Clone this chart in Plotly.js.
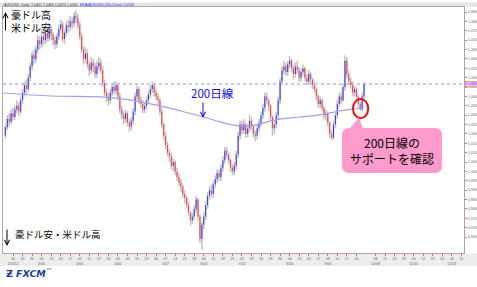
<!DOCTYPE html>
<html><head><meta charset="utf-8">
<script src="https://cdn.plot.ly/plotly-3.0.1.min.js"></script>
<style>html,body{margin:0;padding:0;background:#fff;}#c{width:477px;height:287px;}</style>
</head><body><div id="c"></div>
<script>
// AUD/USD daily candles (prices in pips, x10000), Jan–Sep 2012
const openP = [10190,10235,10280,10265,10310,10290,10330,10350,10320,10380,10420,10460,10440,10500,10560,10620,10600,10650,10700,10680,
10720,10700,10740,10710,10760,10730,10700,10680,10720,10760,10785,10705,10740,10780,10770,10800,10790,10830,10820,10780,
10720,10650,10600,10630,10570,10540,10580,10560,10520,10560,10580,10540,10470,10420,10400,10380,10420,10450,10430,10460,
10400,10330,10300,10280,10310,10260,10240,10270,10320,10400,10440,10380,10360,10330,10350,10380,10410,10440,10460,10420,
10400,10380,10320,10250,10190,10140,10100,10080,10030,10050,10000,9970,9940,9920,9880,9860,9820,9780,9740,9760,
9800,9850,9760,9640,9715,9760,9820,9870,9900,9880,9930,9960,9990,9970,10020,10060,10110,10090,10060,10020,
10000,10030,10090,10190,10250,10220,10250,10200,10230,10270,10240,10200,10190,10230,10260,10300,10340,10400,10380,10350,
10290,10230,10250,10300,10380,10480,10540,10560,10530,10570,10590,10550,10520,10560,10540,10500,10530,10550,10500,10480,
10520,10490,10460,10440,10400,10360,10380,10340,10300,10310,10260,10200,10180,10250,10300,10360,10400,10380,10450,10590,
10520,10480,10460,10420,10440,10400,10360,10330,10400];
const closeP = [10235,10280,10265,10310,10290,10330,10350,10320,10380,10420,10460,10440,10500,10560,10620,10600,10650,10700,10680,10720,
10700,10740,10710,10760,10730,10700,10680,10720,10760,10785,10705,10740,10780,10770,10800,10790,10830,10820,10780,10720,
10650,10600,10630,10570,10540,10580,10560,10520,10560,10580,10540,10470,10420,10400,10380,10420,10450,10430,10460,10400,
10330,10300,10280,10310,10260,10240,10270,10320,10400,10440,10380,10360,10330,10350,10380,10410,10440,10460,10420,10400,
10380,10320,10250,10190,10140,10100,10080,10030,10050,10000,9970,9940,9920,9880,9860,9820,9780,9740,9760,9800,
9850,9760,9640,9715,9760,9820,9870,9900,9880,9930,9960,9990,9970,10020,10060,10110,10090,10060,10020,10000,
10030,10090,10190,10250,10220,10250,10200,10230,10270,10240,10200,10190,10230,10260,10300,10340,10400,10380,10350,10290,
10230,10250,10300,10380,10480,10540,10560,10530,10570,10590,10550,10520,10560,10540,10500,10530,10550,10500,10480,10520,
10490,10460,10440,10400,10360,10380,10340,10300,10310,10260,10200,10180,10250,10300,10360,10400,10380,10450,10590,10520,
10480,10460,10420,10440,10400,10360,10330,10400,10466];
const highP = [10250,10300,10310,10330,10340,10350,10380,10370,10400,10440,10480,10490,10520,10580,10640,10650,10670,10730,10720,10760,
10750,10770,10760,10790,10775,10745,10720,10740,10780,10810,10800,10760,10800,10810,10830,10820,10850,10860,10840,10800,
10740,10670,10660,10650,10590,10610,10600,10580,10590,10610,10600,10560,10490,10440,10420,10440,10470,10480,10480,10470,
10420,10350,10320,10330,10320,10280,10290,10340,10420,10460,10450,10400,10380,10370,10400,10430,10460,10480,10470,10440,
10420,10390,10340,10260,10210,10160,10120,10100,10070,10060,10020,9990,9960,9930,9900,9870,9840,9790,9780,9820,
9870,9860,9770,9730,9780,9840,9890,9920,9930,9950,9980,10010,10010,10040,10080,10130,10130,10100,10070,10040,
10050,10110,10210,10270,10270,10280,10260,10250,10300,10290,10250,10220,10250,10280,10320,10360,10420,10420,10390,10360,
10300,10270,10320,10400,10500,10560,10590,10580,10590,10615,10600,10570,10580,10590,10560,10550,10570,10560,10520,10540,
10530,10500,10480,10450,10410,10400,10390,10350,10330,10320,10270,10220,10270,10320,10380,10420,10420,10470,10620,10610,
10540,10500,10480,10460,10450,10410,10370,10420,10478];
const lowP = [10175,10220,10240,10250,10270,10275,10310,10295,10305,10360,10400,10410,10425,10480,10540,10570,10580,10630,10650,10660,
10670,10680,10690,10695,10700,10670,10650,10660,10700,10740,10690,10680,10720,10740,10750,10760,10770,10790,10760,10700,
10630,10570,10580,10550,10510,10520,10530,10500,10500,10540,10520,10450,10400,10370,10350,10360,10400,10410,10410,10380,
10310,10280,10250,10260,10240,10210,10220,10250,10300,10380,10360,10340,10310,10310,10330,10360,10390,10420,10400,10380,
10350,10300,10230,10170,10120,10080,10050,10010,10000,9980,9950,9920,9890,9860,9830,9800,9760,9710,9720,9740,
9780,9740,9620,9582,9690,9740,9800,9850,9860,9860,9910,9940,9950,9950,10000,10040,10070,10040,10000,9980,
9980,10010,10070,10170,10200,10200,10180,10180,10210,10220,10180,10160,10170,10210,10240,10280,10320,10360,10320,10270,
10190,10200,10230,10280,10360,10460,10520,10510,10510,10550,10530,10490,10500,10520,10480,10480,10510,10480,10460,10460,
10470,10440,10420,10380,10340,10340,10320,10280,10270,10240,10180,10165,10170,10230,10280,10340,10360,10370,10430,10500,
10460,10440,10400,10400,10380,10340,10325,10320,10390];
// 200-day moving average (sampled along the candle index)
const maIdx = [-1.2,24,50,65,81,92,104,113,123,131,139,144,154,165,175,186,188];
const maVal = [10418,10402,10397,10381,10349,10322,10290,10263,10242,10247,10269,10279,10290,10301,10322,10338,10343];
// x-axis week labels (Mondays): week number from the first Monday, day text, month tag
const weekNo  = [0,1,2,3,4,5,6,7,8,9,10,11,12,13,14,15,16,17,18,19,20,21,22,23,24,25,26,27,28,29,30,31,32,33,34,35,36,38,39,40,41,42,43,44,45,46,47];
const weekDay = ['16','23','30','06','13','20','27','05','12','19','26','02','09','16','23','30','07','14','21','28','04','11','18','25','02','09','16','23','30','06','13','20','27','03','10','17','24','08','15','22','29','05','12','19','26','03','10'];
const weekMon = ['1/2012','','','2/06','','','','3/05','','','','4/02','','','','','5/07','','','','6/04','','','','7/02','','','','','8/06','','','','9/03','','','','10/08','','','','11/05','','','','12/03',''];
const yTicks = [1.085,1.080,1.075,1.070,1.065,1.060,1.055,1.050,1.045,1.040,1.035,1.030,1.025,1.020,1.015,1.010,1.005,1.000,0.995,0.990,0.985,0.980,0.975,0.970,0.965];

const S = 10000;
const o = openP.map(v=>v/S), c = closeP.map(v=>v/S), h = highP.map(v=>v/S), l = lowP.map(v=>v/S);
const idx = c.map((_,i)=>i);
const firstMonIdx = 4, perWeek = 5;
const tickvals = weekNo.map(k=>firstMonIdx + perWeek*k);
const ticktext = weekDay.map((d,i)=>d + '<br>' + (weekMon[i]||' '));
const last = c[c.length-1];

const wick = {type:'bar', x:idx, base:l, y:h.map((v,i)=>v-l[i]), width:0.85,
  marker:{color:'rgba(196,196,196,0.99)', line:{width:0}}, hoverinfo:'skip'};
const body = {type:'bar', x:idx, base:o.map((v,i)=>Math.min(v,c[i])), y:o.map((v,i)=>Math.abs(c[i]-v)), width:0.55,
  marker:{color:c.map((v,i)=> v>=o[i] ? 'rgba(50,50,255,0.99)' : 'rgba(255,60,60,0.99)'), line:{width:0}}, hoverinfo:'skip'};
const ma = {type:'scatter', mode:'lines', x:maIdx, y:maVal.map(v=>v/S), line:{color:'#a0a0e8', width:1.2, shape:'spline', smoothing:1}, hoverinfo:'skip'};

// helpers: pixel -> paper
const W=477,H=287,ML=3,MR=13,MT=7,MB=34;
const PW=W-ML-MR, PH=H-MT-MB;
const px=(x)=>(x-ML)/PW, py=(y)=>(H-MB-y)/PH;

// callout path (rounded box with pointer)
const bx0=px(342), bx1=px(442), byT=py(128), byB=py(173), rx=7/PW, ry=7/PH;
const p1=px(350), p2=px(363), tx=px(359), ty=py(118);
const callout = `M${bx0+rx},${byT} L${p1},${byT} L${tx},${ty} L${p2},${byT} L${bx1-rx},${byT} Q${bx1},${byT} ${bx1},${byT-ry} L${bx1},${byB+ry} Q${bx1},${byB} ${bx1-rx},${byB} L${bx0+rx},${byB} Q${bx0},${byB} ${bx0},${byB+ry} L${bx0},${byT-ry} Q${bx0},${byT} ${bx0+rx},${byT} Z`;

const jp = '"Noto Sans CJK JP", sans-serif';
const layout = {
  width:W, height:H, margin:{l:ML,r:MR,t:MT,b:MB,pad:0},
  paper_bgcolor:'#ffffff', plot_bgcolor:'#ffffff',
  barmode:'overlay', showlegend:false, hovermode:false,
  xaxis:{range:[-1.24,240.4], tickmode:'array', tickvals:tickvals, ticktext:ticktext,
    tickfont:{size:3.6,color:'#666',family:'Arial, sans-serif'}, ticks:'outside', ticklen:2, tickcolor:'#ff6060', tickwidth:1,
    showgrid:false, zeroline:false, showline:true, linecolor:'#a8a8a8', linewidth:1, mirror:true, fixedrange:true},
  yaxis:{range:[0.95647,1.08767], side:'right', tickmode:'array', tickvals:yTicks, tickformat:'.4f',
    tickfont:{size:3.6,color:'#666',family:'Arial, sans-serif'}, ticks:'outside', ticklen:2, tickcolor:'#ff6060', tickwidth:1,
    showgrid:false, zeroline:false, showline:true, linecolor:'#a8a8a8', linewidth:1, mirror:true, fixedrange:true},
  shapes:[
    {type:'rect', xref:'paper', yref:'paper', x0:px(0), x1:px(477), y0:py(266), y1:py(253.5), fillcolor:'#ededed', line:{width:0}, layer:'below'},
    {type:'rect', xref:'paper', yref:'paper', x0:px(0), x1:px(477), y0:py(7), y1:py(2.5), fillcolor:'#e6e6e6', line:{width:0}, layer:'below'},
    {type:'line', xref:'paper', yref:'y', x0:0, x1:1, y0:last, y1:last, line:{color:'#8c8cff', width:1, dash:'dot'}, layer:'below'},
    {type:'circle', xref:'x', yref:'y', x0:182.2, x1:190.2, y0:1.0284, y1:1.0386, line:{color:'#ee1111', width:2}},
    {type:'path', xref:'paper', yref:'paper', path:callout, fillcolor:'#ff9acd', line:{width:0}}
  ],
  annotations:[
    {xref:'paper', yref:'paper', x:px(2), y:py(5), xanchor:'left', yanchor:'middle', showarrow:false,
     text:'AUDUSD, Daily, 1.0461 1.0466 1.0454 1.0465  <span style="color:#3030ff">MVA(AUDUSD,200,Close) 1.0343</span>', font:{size:3.6,color:'#444',family:'Arial, sans-serif'}},
    {xref:'paper', yref:'y', x:1, y:last, xanchor:'left', yanchor:'middle', xshift:1, showarrow:false,
     text:last.toFixed(4), font:{size:3.6,color:'#3030ff',family:'Arial, sans-serif'}, bgcolor:'#ffd0e8', bordercolor:'#ff6a6a', borderwidth:0.6, borderpad:0.5},
    {xref:'paper', yref:'paper', x:px(9), y:py(21), xanchor:'left', yanchor:'middle', align:'left', showarrow:false,
     text:'豪ドル高<br>米ドル安', font:{size:10,color:'#000',family:jp}},
    {xref:'paper', yref:'paper', x:px(5.5), y:py(12), ax:0, ay:20, text:'', showarrow:true, arrowhead:5, arrowsize:1, arrowwidth:1, arrowcolor:'#000'},
    {xref:'paper', yref:'paper', x:px(13), y:py(233.5), xanchor:'left', yanchor:'middle', showarrow:false,
     text:'豪ドル安・米ドル高', font:{size:9.5,color:'#000',family:jp}},
    {xref:'paper', yref:'paper', x:px(7), y:py(246), ax:0, ay:-18, text:'', showarrow:true, arrowhead:5, arrowsize:1, arrowwidth:1, arrowcolor:'#000'},
    {xref:'paper', yref:'paper', x:px(212), y:py(93), xanchor:'center', yanchor:'middle', showarrow:false,
     text:'200日線', font:{size:11.5,color:'#1010c8',family:jp}},
    {xref:'paper', yref:'paper', x:px(203), y:py(118), ax:0, ay:-17, text:'', showarrow:true, arrowhead:5, arrowsize:1, arrowwidth:1, arrowcolor:'#1010c8'},
    {xref:'paper', yref:'paper', x:px(392), y:py(150.5), xanchor:'center', yanchor:'middle', showarrow:false,
     text:'200日線の<br>サポートを確認', font:{size:12,color:'#000',family:jp}},
    {xref:'paper', yref:'paper', x:px(4), y:py(273), xanchor:'left', yanchor:'middle', showarrow:false,
     text:'<b>Ƶ</b> <b><i>FXCM</i></b><sup>™</sup>', font:{size:9.5,color:'#1b3f96',family:'DejaVu Sans, sans-serif'}}
  ]
};
Plotly.newPlot('c', [wick, body, ma], layout, {staticPlot:true, displayModeBar:false});
</script></body></html>
